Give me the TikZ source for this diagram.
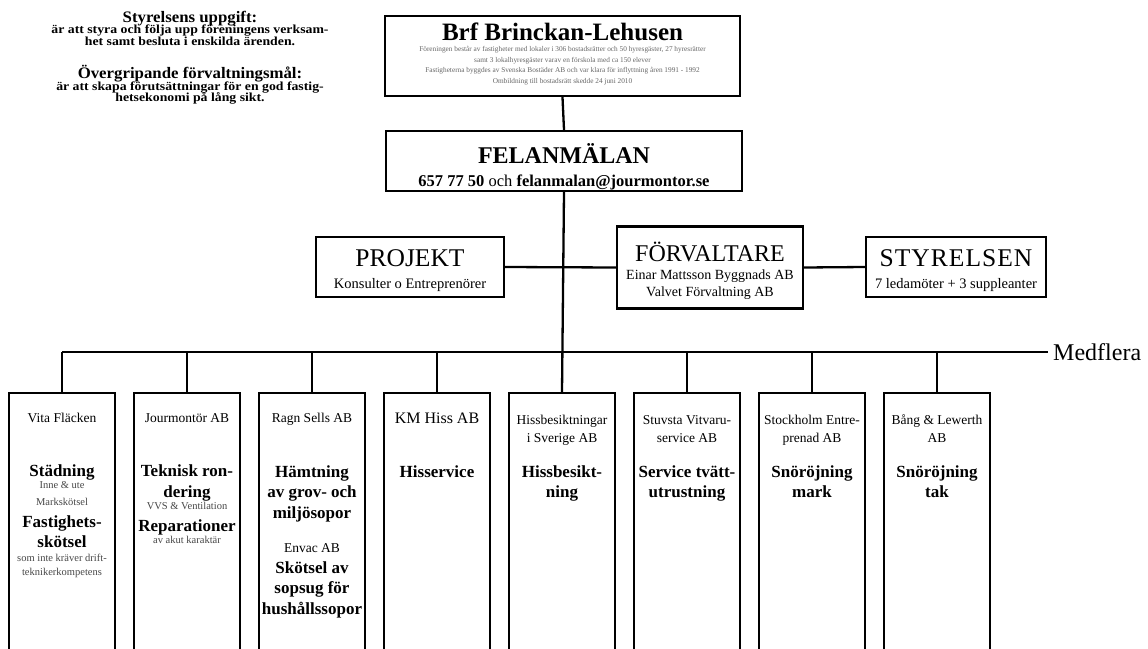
\documentclass[tikz,border=0pt]{standalone}
\usepackage{fontspec}
\setmainfont{Liberation Serif}
\begin{document}
\begin{tikzpicture}[x=1pt,y=-1pt,
  box/.style={draw, line width=2.4pt, rectangle, inner sep=0pt},
  col/.style={draw, line width=2.4pt, rectangle, inner sep=0pt, minimum width=106pt, minimum height=300pt, anchor=north},
  conn/.style={line width=2.3pt},
  tx/.style={inner sep=0pt, anchor=base},
  fsz/.style={font=\fontsize{#1}{#1}\selectfont},
  fbd/.style={font=\fontsize{#1}{#1}\selectfont\bfseries},
  big/.style={tx, fbd=17},
  co/.style={tx, fsz=13.5},
  sm/.style={tx, fsz=10.5, text=black!72},
  tiny/.style={tx, fsz=7.3, text=black!60},
]
\useasboundingbox (0,0) rectangle (1148,648);
\clip (0,0) rectangle (1148,648);
\fill[white] (0,0) rectangle (1148,648);

% left text block
\node[tx, fbd=16] (s1) at (190,22) {\scalebox{1.05}[1]{Styrelsens uppgift:}};
\node[tx, fbd=12.3] (s2) at (190,33.2) {\scalebox{1.12}[1]{är att styra och följa upp föreningens verksam-}};
\node[tx, fbd=12.3] (s3) at (190,45.2) {\scalebox{1.12}[1]{het samt besluta i enskilda ärenden.}};
\node[tx, fbd=16] (s4) at (190,78) {\scalebox{1.05}[1]{Övergripande förvaltningsmål:}};
\node[tx, fbd=12.3] (s5) at (190,90.2) {\scalebox{1.12}[1]{är att skapa förutsättningar för en god fastig-}};
\node[tx, fbd=12.3] (s6) at (190,101.4) {\scalebox{1.12}[1]{hetsekonomi på lång sikt.}};

% top box
\node[box, minimum width=355pt, minimum height=80pt] (brf) at (562.5,56) {};
\node[tx, fbd=25] (brft) at (562.5,40) {Brf Brinckan-Lehusen};
\node[tiny] (brf1) at (562.5,51.5) {Föreningen består av fastigheter med lokaler i 306 bostadsrätter och 50 hyresgäster, 27 hyresrätter};
\node[tiny] (brf2) at (562.5,62) {samt 3 lokalhyresgäster varav en förskola med ca 150 elever};
\node[tiny] (brf3) at (562.5,72.5) {Fastigheterna byggdes av Svenska Bostäder AB och var klara för inflyttning åren 1991 - 1992};
\node[tiny] (brf4) at (562.5,83) {Ombildning till bostadsrätt skedde 24 juni 2010};

% felanmälan
\node[box, minimum width=356pt, minimum height=60pt] (fel) at (564,161) {};
\node[tx, fbd=24] (felt) at (564,163) {FELANMÄLAN};
\node[tx, fbd=16.5] (fel2) at (564,186.5) {657 77 50 \mdseries och \bfseries felanmalan@jourmontor.se};

% middle row
\node[box, minimum width=188pt, minimum height=60pt] (proj) at (410,267) {};
\node[tx, fsz=25.5] (projt) at (410,266.5) {PROJEKT};
\node[tx, fsz=14.5] (proj2) at (410,288) {Konsulter o Entreprenörer};

\node[box, minimum width=186pt, minimum height=82pt] (forv) at (710,267.5) {};
\node[tx, fsz=24] (forvt) at (710,261) {FÖRVALTARE};
\node[tx, fsz=14] (forv2) at (710,279.5) {Einar Mattsson Byggnads AB};
\node[tx, fsz=14] (forv3) at (710,296.5) {Valvet Förvaltning AB};

\node[box, minimum width=180pt, minimum height=60pt] (styr) at (956,267) {};
\node[tx, font=\fontsize{25.5}{25.5}\selectfont\addfontfeature{LetterSpace=4}] (styrt) at (956,266.5) {STYRELSEN};
\node[tx, fsz=14.5] (styr2) at (956,288) {7 ledamöter + 3 suppleanter};

% Medflera
\node[anchor=base west, inner sep=5pt, fsz=24] (med) at (1048,360.5) {Medflera};

% bottom columns
\node[col] (b1) at (62,392) {};
\node[col] (b2) at (187,392) {};
\node[col] (b3) at (312,392) {};
\node[col] (b4) at (437,392) {};
\node[col] (b5) at (562,392) {};
\node[col] (b6) at (687,392) {};
\node[col] (b7) at (812,392) {};
\node[col] (b8) at (937,392) {};

\foreach \i in {1,...,8} { \coordinate (h\i) at (b\i.north |- med.west); }

% connectors
\draw[conn] (brf.south) -- (fel.north);
\draw[conn] (fel.south) -- (b5.north);
\draw[conn] (proj.east) -- (forv.west);
\draw[conn] (forv.east) -- (styr.west);
\draw[conn] (h1) -- (med.west);
\foreach \i in {1,2,3,4,6,7,8} { \draw[conn] (h\i) -- (b\i.north); }

% column 1
\node[co] (c1a) at (62,422.5) {Vita Fläcken};
\node[big] (c1b) at (62,476) {Städning};
\node[sm] (c1c) at (62,488) {Inne \& ute};
\node[sm] (c1d) at (62,505.5) {Markskötsel};
\node[big] (c1e) at (62,527.3) {Fastighets-};
\node[big] (c1f) at (62,547.6) {skötsel};
\node[sm] (c1g) at (62,561.5) {som inte kräver drift-};
\node[sm] (c1h) at (62,575.2) {teknikerkompetens};

% column 2
\node[co] (c2a) at (187,422.5) {Jourmontör AB};
\node[big] (c2b) at (187,476.6) {Teknisk ron-};
\node[big] (c2c) at (187,497.3) {dering};
\node[sm] (c2d) at (187,509.2) {VVS \& Ventilation};
\node[big] (c2e) at (187,531.6) {Reparationer};
\node[sm] (c2f) at (187,543.5) {av akut karaktär};

% column 3
\node[co] (c3a) at (312,422.5) {Ragn Sells AB};
\node[big] (c3b) at (312,477.6) {Hämtning};
\node[big] (c3c) at (312,497.6) {av grov- och};
\node[big] (c3d) at (312,518.6) {miljösopor};
\node[co] (c3e) at (312,552.5) {Envac AB};
\node[big] (c3f) at (312,573.6) {Skötsel av};
\node[big] (c3g) at (312,593.6) {sopsug för};
\node[big] (c3h) at (312,614.6) {hushållssopor};

% column 4
\node[tx, fsz=16] (c4a) at (437,423.3) {KM Hiss AB};
\node[big] (c4b) at (437,477.6) {Hisservice};

% column 5
\node[co] (c5a) at (562,424.5) {Hissbesiktningar};
\node[co] (c5b) at (562,442.5) {i Sverige AB};
\node[big] (c5c) at (562,477.6) {Hissbesikt-};
\node[big] (c5d) at (562,497.6) {ning};

% column 6
\node[co] (c6a) at (687,424.5) {Stuvsta Vitvaru-};
\node[co] (c6b) at (687,442.5) {service AB};
\node[big] (c6c) at (687,477.6) {Service tvätt-};
\node[big] (c6d) at (687,497.6) {utrustning};

% column 7
\node[co] (c7a) at (812,424.5) {Stockholm Entre-};
\node[co] (c7b) at (812,442.5) {prenad AB};
\node[big] (c7c) at (812,477.6) {Snöröjning};
\node[big] (c7d) at (812,497.6) {mark};

% column 8
\node[co] (c8a) at (937,424.5) {Bång \& Lewerth};
\node[co] (c8b) at (937,442.5) {AB};
\node[big] (c8c) at (937,477.6) {Snöröjning};
\node[big] (c8d) at (937,497.6) {tak};
\end{tikzpicture}
\end{document}
